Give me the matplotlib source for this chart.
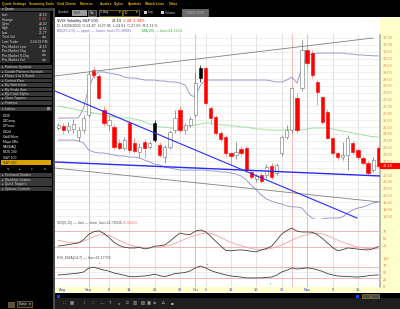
import numpy as np
import matplotlib
matplotlib.use("Agg")
import matplotlib.pyplot as plt
from matplotlib.patches import Rectangle
from matplotlib.ticker import MultipleLocator, FormatStrFormatter

plt.rcParams['font.family'] = ['Liberation Sans', 'DejaVu Sans']

W, H = 400, 309

# daily bars, index 0 = Aug 24 2009 ... 63 = Nov 20 2009
opens = [24.93, 25.08, 24.80, 24.86, 24.27, 24.78, 25.88, 29.16, 28.72, 26.24,
         25.15, 25.00, 23.84, 23.47, 25.30, 23.84, 23.18, 23.91, 23.54, 25.30,
         23.69, 22.81, 23.54, 24.78, 26.24, 24.78, 25.15, 25.88, 29.31, 29.31,
         26.39, 25.73, 24.57, 24.27, 23.11, 22.96, 23.40, 23.47, 21.72, 21.20,
         21.50, 21.50, 22.15, 21.64, 23.11, 24.27, 24.78, 27.12, 27.85, 30.62,
         30.40, 28.29, 27.19, 26.10, 24.20, 23.11, 22.81, 22.96, 23.84, 23.32,
         22.74, 22.37, 21.90, 23.47]
highs = [25.30, 25.30, 25.40, 25.60, 25.00, 25.90, 29.10, 29.40, 28.90, 26.50,
         25.90, 25.20, 24.10, 24.30, 25.50, 24.20, 23.80, 24.10, 24.00, 25.50,
         23.90, 23.70, 24.80, 26.24, 26.50, 25.30, 25.80, 29.02, 29.50, 29.40,
         26.50, 25.90, 24.70, 24.40, 23.20, 23.91, 23.60, 23.60, 21.90, 21.60,
         21.70, 22.30, 22.40, 22.40, 24.40, 25.15, 27.95, 27.50, 31.35, 31.00,
         30.60, 28.40, 27.30, 26.30, 24.30, 23.20, 23.91, 24.42, 24.00, 23.50,
         22.90, 22.50, 22.80, 23.60]
lows = [24.80, 24.50, 24.60, 24.60, 24.00, 24.60, 25.70, 28.60, 27.00, 25.10,
        24.80, 23.40, 23.30, 23.30, 23.10, 23.10, 22.74, 22.74, 23.40, 23.90,
        22.80, 22.37, 23.40, 24.60, 24.60, 24.50, 25.00, 25.70, 28.30, 26.60,
        25.15, 24.40, 23.90, 22.90, 22.23, 22.70, 22.90, 21.70, 21.20, 21.00,
        20.95, 21.30, 21.20, 21.50, 22.90, 24.10, 24.60, 24.60, 27.60, 29.40,
        28.60, 26.60, 25.20, 24.10, 22.90, 22.60, 22.60, 21.86, 23.00, 22.60,
        22.20, 21.50, 21.70, 22.00]
closes = [25.15, 24.78, 25.08, 25.22, 24.78, 25.66, 28.87, 28.80, 27.12, 25.30,
          25.51, 23.54, 23.47, 24.05, 23.32, 23.25, 23.54, 23.50, 23.84, 24.05,
          22.96, 23.54, 24.64, 25.66, 24.78, 25.15, 25.59, 28.21, 28.58, 26.75,
          25.66, 24.57, 24.13, 23.11, 22.89, 23.18, 23.11, 21.86, 21.35, 21.40,
          21.07, 22.08, 21.35, 22.23, 24.27, 24.78, 27.83, 24.78, 30.62, 29.67,
          28.80, 27.56, 25.37, 24.20, 23.11, 22.81, 22.96, 24.20, 23.18, 22.81,
          22.37, 21.64, 22.63, 22.19]

bb_upper = [25.66, 25.66, 25.66, 25.66, 25.66, 26.39, 27.85, 28.72, 29.02, 29.02,
            28.94, 28.87, 28.80, 28.65, 28.58, 28.58, 28.51, 28.43, 28.43, 28.43,
            28.36, 28.36, 28.29, 28.29, 28.21, 28.07, 27.34, 27.19, 28.07, 28.43,
            28.43, 28.43, 28.43, 28.43, 28.43, 28.43, 28.43, 28.43, 28.43, 28.43,
            28.43, 28.43, 28.36, 28.29, 28.29, 28.43, 28.65, 28.21, 29.38, 30.19,
            30.33, 30.40, 30.40, 30.40, 30.40, 30.40, 30.40, 30.33, 30.33, 30.26,
            30.26, 30.22, 30.20, 30.19]
bb_lower = [24.05, 24.05, 24.05, 24.05, 23.98, 23.84, 23.32, 23.18, 23.11, 23.11,
            23.03, 22.96, 22.89, 22.89, 22.81, 22.81, 22.74, 22.59, 22.45, 22.30,
            22.23, 22.08, 22.01, 21.94, 21.86, 21.86, 21.86, 21.86, 21.86, 21.86,
            21.79, 21.79, 21.72, 21.72, 21.64, 21.57, 21.43, 21.14, 20.77, 20.41,
            20.04, 19.75, 19.60, 19.46, 19.39, 19.24, 19.17, 19.17, 19.09, 18.65,
            18.36, 18.22, 18.29, 18.36, 18.36, 18.36, 18.44, 18.73, 18.95, 19.09,
            19.17, 19.31, 19.46, 19.53]
ma20 = [26.54, 26.46, 26.39, 26.32, 26.24, 26.17, 26.10, 26.02, 25.95, 25.88,
        25.81, 25.73, 25.66, 25.66, 25.66, 25.59, 25.51, 25.37, 25.22, 25.08,
        25.00, 25.00, 24.93, 24.93, 24.93, 25.00, 25.08, 25.15, 25.22, 25.30,
        25.30, 25.22, 25.15, 25.15, 25.08, 25.08, 25.00, 25.00, 24.93, 24.86,
        24.86, 24.78, 24.78, 24.78, 24.78, 24.78, 24.86, 24.78, 24.78, 24.86,
        24.93, 24.93, 24.93, 24.93, 24.86, 24.78, 24.71, 24.64, 24.57, 24.49,
        24.42, 24.35, 24.30, 24.27]

stoch_fast = [25, 27, 30, 33, 36, 48, 66, 76, 79, 70,
              55, 38, 27, 21, 18, 18, 20, 15, 18, 24,
              26, 29, 42, 58, 71, 67, 66, 78, 82, 76,
              60, 42, 25, 9, 8, 10, 11, 9, 6, 4,
              11, 16, 24, 45, 68, 80, 89, 78, 75, 75,
              74, 66, 52, 36, 20, 8, 12, 18, 16, 14,
              12, 11, 15, 22.8]
stoch_slow = [45, 42, 38, 36, 37, 42, 50, 58, 64, 66,
              62, 54, 45, 36, 29, 24, 21, 19, 18, 19,
              21, 24, 28, 34, 42, 50, 57, 63, 68, 71,
              70, 64, 55, 46, 38, 31, 26, 21, 16, 12,
              11, 13, 17, 22, 29, 37, 46, 54, 61, 66,
              70, 71, 68, 62, 54, 46, 39, 32, 26, 21,
              18, 16, 15, 15.1]
rsi = [41, 42, 44, 46, 48, 52, 66, 70, 64, 59,
       55, 48, 44, 40, 35, 34, 36, 37, 40, 44,
       38, 35, 40, 46, 48, 50, 56, 67, 74, 67,
       58, 51, 46, 41, 37, 35, 33, 30, 30, 30,
       30, 32, 33, 40, 52, 58, 67, 63, 65, 67,
       65, 60, 54, 46, 41, 37, 36, 35, 34, 33,
       35, 38, 40, 41.2]

# hand drawn trend lines (bar index, price)
upper_line_x, upper_line_y = [-0.63, 62.0], [28.73, 31.50]
lower_line_x, lower_line_y = [-0.63, 63.35], [22.01, 19.53]
down_line_x, down_line_y = [-0.63, 58.83], [27.63, 18.36]
flat_line_x, flat_line_y = [-0.63, 63.35], [22.45, 21.43]

date_ticks = [0.75, 6, 10, 14, 19, 24, 27, 29, 34, 39, 44, 49, 54, 59]
date_labels = ["Aug", "Sep", "8", "14", "21", "28", "Oct", "5", "12", "19", "26", "Nov", "9", "16"]
last_price = 22.19

menu_items = ["Quote Settings", "Scanning Tools", "Grid Charts", "Patterns", "Studies",
              "Styles", "Symbols", "Watch Lists", "Other"]
quote_rows = [("Last", "22.19"), ("Change", "-0.44"), ("Open", "22.40"), ("High", "22.65"),
              ("Low", "21.77"), ("Total Vol", "n/a"), ("Last Trade", "3:14:59 PM"),
              ("Pre-Market Last", "22.19"), ("Pre-Market Chg", "n/a"),
              ("Pre-Market %Chg", "n/a"), ("Pre-Market Vol", "n/a")]
sections = ["Patterns Symbols", "Candle Patterns Symbols", "Phase 1 to 3 Scans", "Current Plan",
            "My Watch lists", "My Study Sets", "My Chart Styles", "Chart Toppers", "Patterns"]
indices = ["DJ30", "DJComp", "DJTrans", "DJUtil", "Gold/Silver", "Major Mkt", "NASDAQ",
           "NDX 100", "S&P 100"]
sections2 = ["Technical Studies", "Watchlist Studies", "Quick Toppers", "Options Controls"]

fig = plt.figure(figsize=(W / 100, H / 100), dpi=100, facecolor='black')
ui = fig.add_axes([0, 0, 1, 1], zorder=0)
ui.set_xlim(0, W)
ui.set_ylim(H, 0)
ui.axis('off')


def box(x0, y0, x1, y1, fc, ec='none', lw=0.4):
    ui.add_patch(Rectangle((x0, y0), x1 - x0, y1 - y0, facecolor=fc, edgecolor=ec, lw=lw))


def label(x, y, s, size=2.4, color='#d8d8d8', ha='left', **kw):
    ui.text(x, y, s, fontsize=size, color=color, ha=ha, va='center', **kw)


# menu bar
for name, mx in zip(menu_items, [2, 29, 57, 80, 100, 114, 128, 145, 169]):
    label(mx, 3.8, name, size=2.4, color='#e8b400', fontweight='bold')

# left panel
box(53, 7.5, 55, 309, '#4a4a4a')
box(0, 7.5, 53, 11.2, '#3c3c3c')
label(2, 9.3, "\u25be Quote", color='#e0e0e0')
box(0, 11.8, 50, 62.5, '#2b2b2b')
for i, (name, val) in enumerate(quote_rows):
    y = 15 + 4.5 * i
    label(2, y, name)
    label(47, y, val, ha='right', color='#ff5050' if name == "Change" else '#d8d8d8')
for i, name in enumerate(sections):
    y = 67 + 4.5 * i
    box(0, y - 1.9, 52, y + 1.9, '#383838')
    label(2, y, "\u25b8 " + name, color='#c8c8c8')
box(0, 106.6, 52, 110.6, '#383838')
label(2, 108.6, "\u25be Indices", color='#c8c8c8')
box(47, 107.3, 50, 110, '#909090')
for i, name in enumerate(indices):
    label(3, 116 + 5.2 * i, name, color='#f0f0f0')
box(1, 160.3, 51, 165.3, '#d9a400')
label(3, 162.8, "S&P 500", color='#202020')
for gx, g in zip([8, 20, 32, 45], ["\u21c5", "\u25b4", "\u25be", "\u2261"]):
    label(gx, 168.8, g, color='#b0b0b0', ha='center')
for i, name in enumerate(sections2):
    y = 175 + 4.6 * i
    box(0, y - 1.9, 52, y + 1.9, '#383838')
    label(2, y, "\u25b8 " + name, color='#c8c8c8')
box(8, 301.5, 14, 306.5, '#505050', ec='#a08830')
box(17, 301, 32, 307, '#1a1a1a', ec='#b09030')
label(18.5, 304, "Close", color='#e0e0e0')
label(29, 304, "\u25be", color='#e0e0e0')

# chart toolbar
label(58, 12.3, "Symbol", color='#c0c0c0')
box(72, 9.5, 87, 15.5, '#9a9a9a')
label(73.5, 12.5, "$VIX", color='#303030')
box(88, 9.5, 96, 15.5, '#303030', ec='#a0a0a0')
label(92, 12.5, "Go", color='#f0f0f0', ha='center')
box(99, 9.5, 122, 15.5, 'black', ec='#c8a000')
label(100.5, 12.5, "1 day", color='#f0f0f0')
label(120, 12.5, "\u25be", color='#f0f0f0', ha='center')
box(123, 9.5, 139, 15.5, 'black', ec='#c8a000')
label(125, 12.5, "D", color='#f0f0f0')
label(137, 12.5, "\u25be", color='#f0f0f0', ha='center')
box(143.5, 10.8, 146.8, 14.1, '#d0d0d0')
label(148, 12.5, "Log", color='#c0c0c0')
box(160.5, 10.8, 163.8, 14.1, '#d0d0d0')
label(165, 12.5, "Volume", color='#c0c0c0')
box(182, 9, 208, 16, '#6a6a6a', ec='#8a8a8a')
label(195, 12.5, "TRACK NOW", color='#a8a8a8', ha='center', size=2.2)

# chart frame pieces
box(55, 17, 380, 34, 'white')
box(380, 17, 400, 293, '#ffffcc')
box(55, 287, 380, 293, '#ffffcc')
box(55, 293, 400, 298, 'black')
box(55, 298, 400, 309, '#1e1e1e')
box(57, 294.5, 60, 297.5, '#2040ff')
box(356, 294.5, 359, 297.5, '#2040ff')
box(362, 293.8, 370, 298.2, '#4a4a4a', ec='#b09030')
box(371, 293.8, 379, 298.2, '#4a4a4a', ec='#b09030')
for ix, g in zip([64, 72, 85, 93, 102, 110, 119, 127, 135, 143, 149, 155, 163, 172],
                 ["\u2237", "\u25a6", "/", "\u2215", "\u2014", "T", "\u25cb", "\u25a1", "\u25a5",
                  "\u25a4", "\u25a3", "\u25c8", "\u2206", "\u25a0"]):
    label(ix, 303.5, g, color='#b8b8b8', ha='center', size=3.2)

# header of the price panel
label(57, 21, "$VIX Volatility S&P 500", size=2.9, color='#202020')
label(112, 21, "22.19", size=2.9, color='#202020')
label(123, 21, "-0.44", size=2.9, color='#ff2020')
label(133, 21, "-1.94%", size=2.9, color='#ff2020')
label(57, 26.2, "D: 10/28/2009  O:24.87  H:27.95  L:24.61  C:27.83  R:2.11 %", size=2.7, color='#404040')
label(57, 31.3, "BB(20,2.0) \u2014 upper \u2014 lower  last=30.38695", size=2.7, color='#7070c8')
label(142, 31.3, "MA(20) \u2014 last=24.2654", size=2.7, color='#40b040')

XL = (-0.63, 63.35)
month_ticks = [6, 27, 49]


def panel(x0, y0, x1, y1):
    ax = fig.add_axes([x0 / W, 1 - y1 / H, (x1 - x0) / W, (y1 - y0) / H], zorder=2)
    ax.set_facecolor('white')
    ax.set_xlim(*XL)
    for s in ax.spines.values():
        s.set_visible(False)
    ax.spines['right'].set_visible(True)
    ax.spines['right'].set_color('#9a9a9a')
    ax.spines['right'].set_linewidth(0.5)
    ax.spines['bottom'].set_visible(True)
    ax.spines['bottom'].set_color('#d0d0d0')
    ax.spines['bottom'].set_linewidth(0.4)
    ax.yaxis.tick_right()
    ax.tick_params(axis='y', length=0, labelsize=2.8, labelcolor='#f07a4a', pad=2.2)
    ax.tick_params(axis='x', length=0, labelbottom=False)
    ax.set_xticks(date_ticks)
    for t in date_ticks[1:]:
        ax.axvline(t, color='#a8a8a8' if t in month_ticks else '#d4d4d4', lw=0.45, zorder=0.5)
    ax.axvline(46, color='#f4a0a0', lw=0.5, zorder=0.6)
    ax.axvline(63.15, color='#f08080', lw=0.5, zorder=0.6)
    return ax


def fx(px):
    return (px - 55) / 325.0


# price panel
ax = panel(55, 34, 380, 219)
ax.set_ylim(18.29, 31.79)
ax.yaxis.set_major_locator(MultipleLocator(0.5))
ax.yaxis.set_major_formatter(FormatStrFormatter('%.2f'))
ax.grid(axis='y', color='#e4e4e4', lw=0.4, zorder=0.4)
ax.set_axisbelow(True)

k = np.arange(len(closes))
o = np.array(opens)
c = np.array(closes)
prev = np.concatenate([[c[0]], c[:-1]])
for i in k:
    if c[i] >= o[i]:
        face, edge, wick = 'white', '#707070', '#707070'
    elif c[i] > prev[i]:
        face, edge, wick = 'black', 'black', 'black'
    else:
        face, edge, wick = '#ff0000', '#ff0000', '#ff7070'
    ax.vlines(i, lows[i], highs[i], color=wick, lw=0.5, zorder=3)
    ax.bar(i, max(abs(c[i] - o[i]), 0.04), bottom=min(o[i], c[i]), width=0.64,
           color=face, edgecolor=edge, lw=0.4, zorder=4)

ax.plot(k, bb_upper, color='#8c8cd0', lw=0.6, zorder=2)
ax.plot(k, bb_lower, color='#8c8cd0', lw=0.6, zorder=2)
ax.plot(k, ma20, color='#90dc90', lw=0.6, zorder=2)
ax.plot(upper_line_x, upper_line_y, color='#808080', lw=0.6, zorder=5)
ax.plot(lower_line_x, lower_line_y, color='#808080', lw=0.6, zorder=5)
ax.plot(down_line_x, down_line_y, color='#2a2aff', lw=0.8, zorder=5)
ax.plot(flat_line_x, flat_line_y, color='#2a2aff', lw=1.0, zorder=5)

ax.add_patch(Rectangle((XL[1], last_price - 0.22), 20 / 5.08, 0.44, facecolor='#ff0000',
                       edgecolor='none', clip_on=False, zorder=6))
ax.text(XL[1] + 0.55, last_price, "%.2f" % last_price, fontsize=2.8, color='white',
        va='center', ha='left', clip_on=False, zorder=7)

# stochastic panel
ax_s = panel(55, 219, 380, 254)
ax_s.set_ylim(-3.6, 121.4)
ax_s.set_yticks([25, 50, 75])
ax_s.axhline(80, color='#f4a8a8', lw=0.6)
ax_s.axhline(20, color='#f4a8a8', lw=0.6)
ax_s.plot(k, stoch_slow, color='#f4a0a0', lw=0.6)
ax_s.plot(k, stoch_fast, color='#404040', lw=0.6)
ax_s.text(fx(57), 0.88, "SDI(5,15) \u2014 fast \u2014 slow  last=22.78335,", transform=ax_s.transAxes,
          fontsize=2.6, color='#505050', va='center')
ax_s.text(fx(123), 0.88, "15.08415", transform=ax_s.transAxes,
          fontsize=2.6, color='#f07070', va='center')

# RSI panel
ax_r = panel(55, 254, 380, 287)
ax_r.set_ylim(-3.7, 118.5)
ax_r.set_yticks([0, 25, 50, 75, 100])
ax_r.axhline(70, color='#f4a8a8', lw=0.6)
ax_r.axhline(30, color='#f4a8a8', lw=0.6)
ax_r.axhline(50, color='#e4e4e4', lw=0.5)
ax_r.plot(k, rsi, color='#404040', lw=0.6)
ax_r.plot([8, 29.3], [86, 82], 'v', color='#ff3030', ms=0.9, mew=0)
ax_r.plot([41.6], [10], '^', color='#30c030', ms=0.9, mew=0)
ax_r.text(fx(57), 0.88, "RSI_EMA(14,7) \u2014 last=41.17702", transform=ax_r.transAxes,
          fontsize=2.6, color='#505050', va='center')
ax_r.set_xticks(date_ticks, date_labels)
ax_r.tick_params(axis='x', labelbottom=True, labelsize=2.8, labelcolor='#3333cc', pad=1.0)
ax_r.spines['bottom'].set_visible(False)

fig.savefig("out.png", dpi=100, facecolor='black')
